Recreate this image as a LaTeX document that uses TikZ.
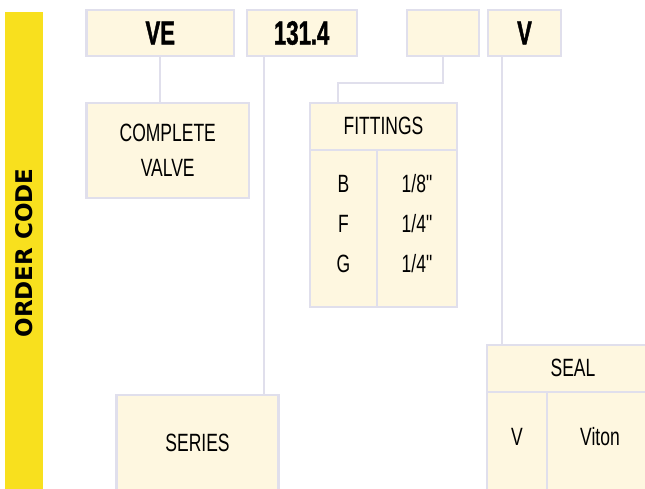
\documentclass[tikz,border=0pt]{standalone}
\usepackage{fontspec}
\setmainfont{Liberation Sans}
\newfontfamily\condfont{Liberation Sans}[FakeStretch=0.7]
\newfontfamily\condbold{Liberation Sans Bold}[FakeStretch=0.66, FakeBold=1.2]
\newfontfamily\barfont{DejaVu Sans Bold}
\definecolor{boxfill}{HTML}{FEF7E0}
\definecolor{boxline}{HTML}{E0DFEC}
\definecolor{barfill}{HTML}{F8E01E}

\begin{document}
\begin{tikzpicture}[x=1pt, y=-1pt,
  codebox/.style = {draw=boxline, fill=boxfill, line width=2.2pt, outer sep=0pt,
    inner sep=0pt, minimum height=46pt, font=\condbold\fontsize{33.5}{36}\selectfont},
  infobox/.style = {draw=boxline, fill=boxfill, line width=2.2pt, outer sep=0pt,
    inner sep=0pt, align=center, font=\condfont\fontsize{25}{35}\selectfont},
  cell/.style = {inner sep=0pt, text height=18pt, text depth=0pt,
    font=\condfont\fontsize{25}{28}\selectfont},
  link/.style = {draw=boxline, line width=2.2pt},
  divider/.style = {draw=boxline, line width=1.6pt},
  ]
  \useasboundingbox (0,0) rectangle (645,488);

  % side bar
  \fill[barfill] (5,12) rectangle (43,495);
  \node[rotate=90, font=\barfont\fontsize{23}{26}\selectfont, inner sep=0pt] (title) at (24.5,253) {ORDER CODE};

  % order code
  \node[codebox, minimum width=147.5pt] (vecode) at (160.25,33) {VE};
  \node[codebox, minimum width=110pt] (seriescode) at (301.7,33) {131.4};
  \node[codebox, minimum width=72.3pt] (fitcode) at (442.85,33) {};
  \node[codebox, minimum width=73pt] (sealcode) at (524.5,33) {V};

  % descriptions
  \node[infobox, minimum width=162.5pt, minimum height=95pt] (valve) at (167.75,150.2) {COMPLETE\\VALVE};
  \node[infobox, minimum width=162pt, minimum height=96pt] (series) at (197.5,443) {SERIES};
  \node[infobox, minimum width=147pt, minimum height=204pt] (fittings) at (383.5,205) {};
  \node[infobox, minimum width=168pt, minimum height=150pt] (seal) at (571,420) {};

  % fittings table
  \draw[divider] ([yshift=-47pt]fittings.north west) -- ([yshift=-47pt]fittings.north east);
  \draw[divider] ([xshift=67pt,yshift=-47pt]fittings.north west) -- ([xshift=67pt]fittings.south west);
  \node[cell] (fithead) at (383.5,125) {FITTINGS};
  \foreach \code/\size [count=\i from 0] in {B/{1/8"},F/{1/4"},G/{1/4"}} {
    \node[cell] (fit\code) at (343.5,{183+40*\i}) {\code};
    \node[cell] (size\code) at (417,{183+40*\i}) {\size};
  }

  % seal table
  \draw[divider] ([yshift=-47pt]seal.north west) -- ([yshift=-47pt]seal.north east);
  \draw[divider] ([xshift=60pt,yshift=-47pt]seal.north west) -- ([xshift=60pt]seal.south west);
  \node[cell] (sealhead) at (573,367) {SEAL};
  \node[cell] (sealV) at (517,436) {V};
  \node[cell] (viton) at (600,436) {Viton};

  % connectors
  \draw[link] (vecode.south) -- (vecode.south |- valve.north);
  \draw[link] ([xshift=17.3pt]seriescode.south west) -- ([xshift=17.3pt]seriescode.south west |- series.north);
  \draw[link] (fitcode.south) -- ++(0,27) -| ([xshift=28pt]fittings.north west);
  \draw[link] ([xshift=14pt]sealcode.south west) -- ([xshift=14pt]sealcode.south west |- seal.north);

\end{tikzpicture}
\end{document}
